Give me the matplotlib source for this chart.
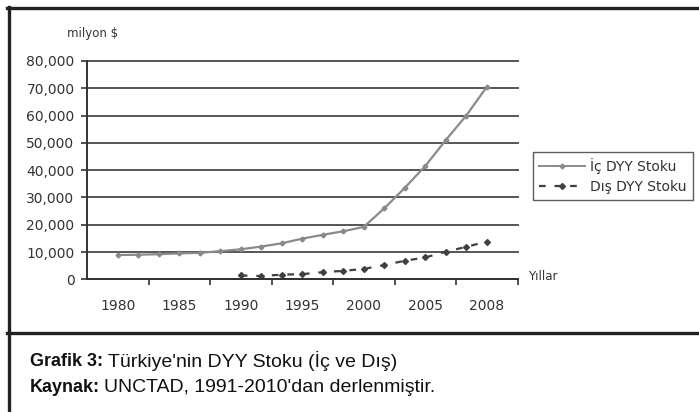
# Türkiye'nin DYY stoku (iç ve dış), UNCTAD verisinden
import numpy as np
import matplotlib
matplotlib.use("Agg")
import matplotlib.pyplot as plt
from matplotlib.lines import Line2D
from matplotlib.ticker import FuncFormatter, FixedLocator

# 19 kategori, etiket her 3 kategoride bir
year_labels = ["1980", "1985", "1990", "1995", "2000", "2005", "2008"]
ic_stock = [8900, 9000, 9200, 9500, 9700, 10300, 11000, 12000, 13200, 14900,
            16300, 17600, 19200, 26000, 33500, 41500, 51000, 60000, 70500]
dis_stock = [np.nan] * 6 + [1400, 1200, 1700, 1900, 2600, 3100, 3800,
                            5200, 6800, 8000, 10100, 11900, 13800]
series_names = ["İç DYY Stoku", "Dış DYY Stoku"]
y_ticks = [0, 10000, 20000, 30000, 40000, 50000, 60000, 70000, 80000]

W, H = 699, 412
fig = plt.figure(figsize=(W / 100, H / 100), dpi=100)

# plot alanı (piksel ölçümlerinden)
ax = fig.add_axes([87 / W, 1 - 279.3 / H, (517.5 - 87) / W, (279.3 - 61) / H])

x = np.arange(len(ic_stock))
ax.plot(x, ic_stock, color="#8a8a8a", lw=1.6, marker="D", ms=2.5,
        mec="#8a8a8a", mfc="#8a8a8a")
ax.plot(x, dis_stock, color="#404040", lw=1.6, ls=(0, (3, 4)), marker="D",
        ms=3, mec="#404040", mfc="#404040")

ax.set_xlim(-1.5, len(ic_stock) + 0.5)
ax.set_ylim(0, 80000)

# kategori sınırlarında tikler, etiketler ortada
step = 3
ax.xaxis.set_major_locator(FixedLocator(np.arange(-1.5 + step, len(ic_stock) + 1, step)))
ax.set_xticklabels([], minor=False)
ax.set_xticks(np.arange(0, len(ic_stock), step), year_labels, minor=True)
ax.tick_params(axis="x", which="major", direction="out", length=4, width=1.2, color="#333")
ax.tick_params(axis="x", which="minor", length=0, pad=14, labelsize=10, labelcolor="#333")

ax.set_yticks(y_ticks)
ax.yaxis.set_major_formatter(FuncFormatter(lambda v, p: f"{int(v):,}"))
ax.tick_params(axis="y", direction="out", length=4, width=1.2, color="#333",
               pad=5, labelsize=10, labelcolor="#333")

ax.yaxis.grid(True, color="#555555", lw=1.4)
for gl in ax.get_ygridlines():
    gl.set_clip_on(False)
ax.set_axisbelow(True)

for s in ["top", "right"]:
    ax.spines[s].set_visible(False)
for s in ["left", "bottom"]:
    ax.spines[s].set_color("#333")
    ax.spines[s].set_linewidth(1.4)

fig.text(67 / W, 1 - 33 / H, "milyon $", fontsize=8.5, color="#333", va="center")
fig.text(528 / W, 1 - 277 / H, "Yıllar", fontsize=8.5, color="#333", va="center")

handles = [
    Line2D([], [], color="#8a8a8a", lw=1.4, marker="D", ms=2.5),
    Line2D([], [], color="#404040", lw=1.6, ls=(0, (3, 4)), marker="D", ms=3),
]
leg = fig.legend(handles, series_names, loc="upper left",
                 bbox_to_anchor=(533 / W, 1 - 152 / H), borderaxespad=0,
                 fontsize=10, frameon=True, fancybox=False, edgecolor="#333",
                 handlelength=3.3, handletextpad=0.35, borderpad=0.45,
                 labelspacing=0.4)
leg.get_frame().set_linewidth(1.0)
for t in leg.get_texts():
    t.set_color("#333")

# çerçeve çizgileri
frame_kw = dict(color="#222", lw=2.4, transform=fig.transFigure)
fig.add_artist(Line2D([8.5 / W, 8.5 / W], [0, 1 - 7 / H], **frame_kw))
fig.add_artist(Line2D([7 / W, 1], [1 - 7.5 / H, 1 - 7.5 / H], **frame_kw))
fig.add_artist(Line2D([7 / W, 1], [1 - 333 / H, 1 - 333 / H], **frame_kw))

# alt yazılar
cap = dict(family="Liberation Sans", va="center", color="#111")
fig.text(30 / W, 1 - 361 / H, "Grafik 3:", weight="bold", fontsize=13, **cap)
fig.text(108 / W, 1 - 361 / H, "Türkiye'nin DYY Stoku (İç ve Dış)", fontsize=14, **cap)
fig.text(30 / W, 1 - 387 / H, "Kaynak:", weight="bold", fontsize=13, **cap)
fig.text(104 / W, 1 - 387 / H, "UNCTAD, 1991-2010'dan derlenmiştir.", fontsize=14, **cap)

fig.savefig("out.png", dpi=100)
